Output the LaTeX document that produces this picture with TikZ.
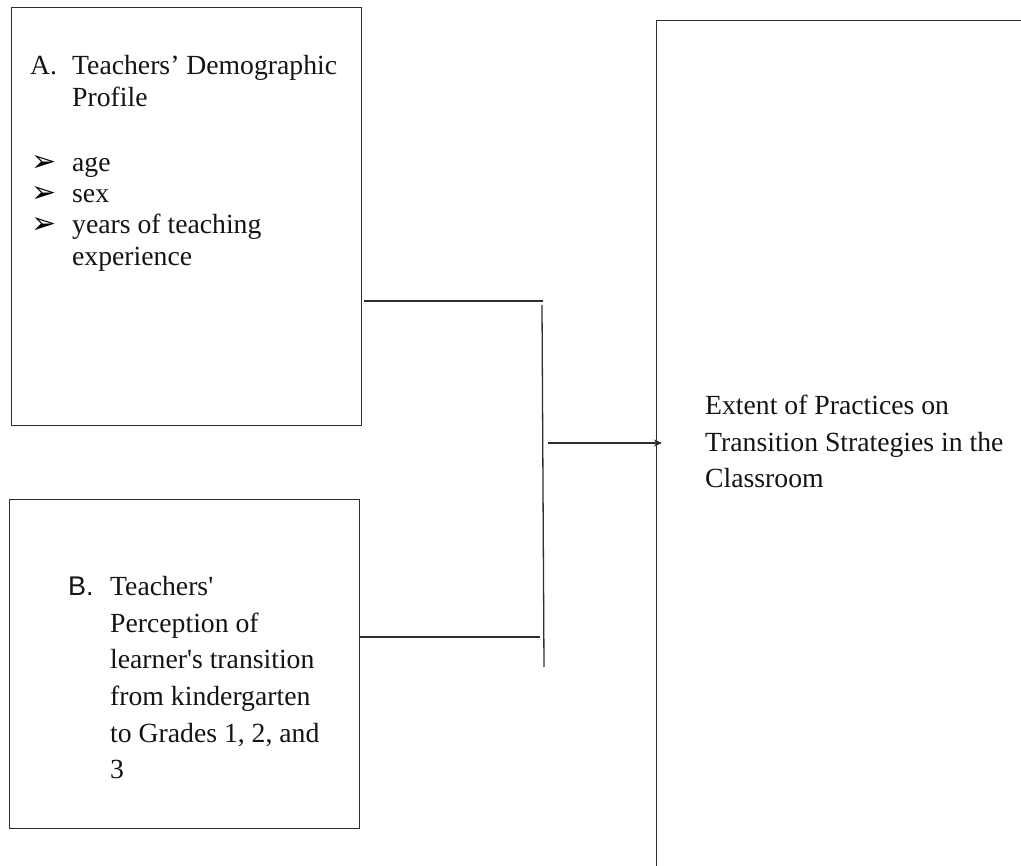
\documentclass[tikz,border=0pt]{standalone}
\usepackage{fontspec}
\setmainfont{Liberation Serif}
\newfontfamily\plainserif[Ligatures=TeXOff]{Liberation Serif}
\newfontfamily\labsans{Liberation Sans}
\newfontfamily\dingfont{DejaVu Sans}
\usetikzlibrary{arrows.meta}
\begin{document}
\begin{tikzpicture}[x=1pt,y=-1pt,
  boxframe/.style={draw=black!82,line width=1.3pt,inner sep=0pt,anchor=north west},
  txt/.style={anchor=base west,inner sep=0pt,font=\fontsize{27.7}{32}\selectfont,text=black!92},
  ptxt/.style={anchor=base west,inner sep=0pt,font=\plainserif\fontsize{27.7}{32}\selectfont,text=black!92},
  lab/.style={anchor=base west,inner sep=0pt,font=\labsans\fontsize{27}{32}\selectfont,text=black!92},
  bul/.style={anchor=base west,inner sep=0pt,font=\dingfont\fontsize{30}{32}\selectfont,text=black},
  link/.style={draw=black!82,line width=1.3pt}]
\useasboundingbox (0,0) rectangle (1021,866);
\begin{scope}
\clip (0,0) rectangle (1021,866);
% boxes
\node[boxframe,minimum width=350pt,minimum height=418pt] (A) at (11,7) {};
\node[boxframe,minimum width=350pt,minimum height=329pt] (B) at (9,499) {};
\node[boxframe,minimum width=380pt,minimum height=870pt] (C) at (656,20) {};
% text of A
\node[txt] (alab) at (30,75) {A.};
\node[txt] (a1) at (72,75) {Teachers’ Demographic};
\node[txt] (a2) at (72,107) {Profile};
\node[bul] (b1) at (31,172) {➢};
\node[bul] (b2) at (31,203) {➢};
\node[bul] (b3) at (31,234) {➢};
\node[txt] (a3) at (72,172) {age};
\node[txt] (a4) at (72,203) {sex};
\node[txt] (a5) at (72,234) {years of teaching};
\node[txt] (a6) at (72,266) {experience};
% text of B
\node[lab] (blab) at (68,595) {B.};
\node[ptxt] (c1) at (110,595) {Teachers'};
\node[ptxt] (c2) at (110,632) {Perception of};
\node[ptxt] (c3) at (110,668) {learner's transition};
\node[ptxt] (c4) at (110,705) {from kindergarten};
\node[ptxt] (c5) at (110,742) {to Grades 1, 2, and};
\node[ptxt] (c6) at (110,778) {3};
% text of C
\node[txt] (d1) at (705,415) {Extent of Practices on};
\node[txt] (d2) at (705,452) {Transition Strategies in the};
\node[txt] (d3) at (705,488) {Classroom};
% connectors
\coordinate (jA) at (543,301);
\coordinate (jtop) at (542,305);
\coordinate (jbot) at (544,667);
\coordinate (jB) at (540,637);
\coordinate (s) at (548,443);
\draw[link] ([xshift=2pt]A.east|-jA) -- (jA);
\draw[link] (B.east|-jB) -- (jB);
\draw[link] (jtop) -- (jbot);
\draw[link,-{Stealth[length=8pt,width=7pt]},shorten >=-6pt] (s) -- (C.west|-s);
\end{scope}
\end{tikzpicture}
\end{document}
